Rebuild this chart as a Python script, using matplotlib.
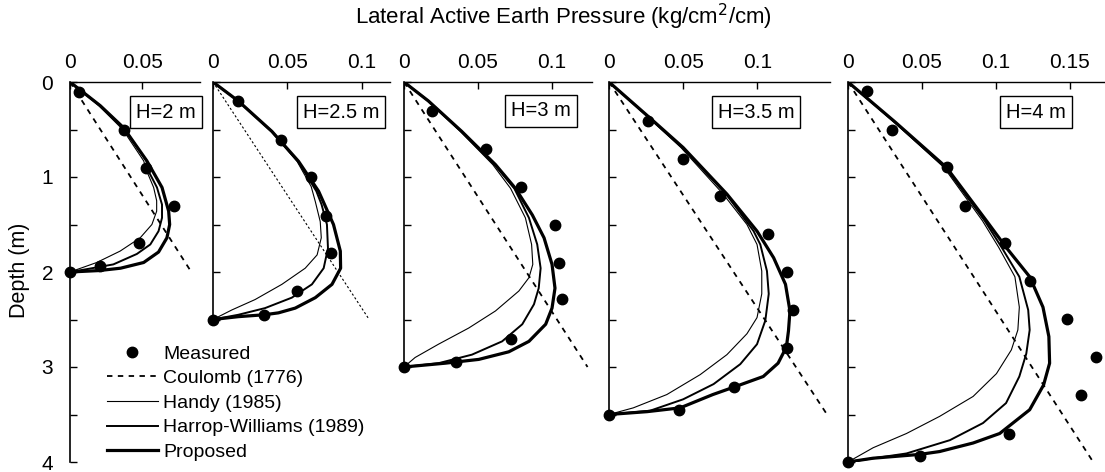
import matplotlib
matplotlib.use("Agg")
import matplotlib.pyplot as plt
from matplotlib.lines import Line2D

plt.rcParams['font.family'] = ['Liberation Sans', 'DejaVu Sans']
plt.rcParams['font.size'] = 14

# ---------------- data ----------------
heights = [2, 2.5, 3, 3.5, 4]
box_labels = ["H=2 m", "H=2.5 m", "H=3 m", "H=3.5 m", "H=4 m"]
x_limits = [0.090, 0.119, 0.127, 0.149, 0.174]
x_ticks = [[0, 0.05], [0, 0.05, 0.1], [0, 0.05, 0.1], [0, 0.05, 0.1], [0, 0.05, 0.1, 0.15]]
x_ticklabels = [["0", "0.05"], ["0", "0.05", "0.1"], ["0", "0.05", "0.1"],
                ["0", "0.05", "0.1"], ["0", "0.05", "0.1", "0.15"]]

meas_depth = [
    [0.105, 0.51, 0.9, 1.3, 1.69, 1.94, 2.0],
    [0.2, 0.61, 1.0, 1.41, 1.8, 2.2, 2.45, 2.5],
    [0.30, 0.705, 1.10, 1.51, 1.90, 2.28, 2.70, 2.95, 3.0],
    [0.41, 0.81, 1.2, 1.6, 2.0, 2.4, 2.8, 3.21, 3.45, 3.5],
    [0.098, 0.5, 0.896, 1.3, 1.69, 2.09, 2.49, 2.89, 3.29, 3.7, 3.94, 4.0],
]
meas_p = [
    [0.0065, 0.0375, 0.0528, 0.0722, 0.0475, 0.0208, 0],
    [0.0171, 0.0458, 0.066, 0.076, 0.079, 0.0564, 0.0346, 0],
    [0.0192, 0.0554, 0.0787, 0.1018, 0.1048, 0.1066, 0.072, 0.035, 0],
    [0.0261, 0.0502, 0.075, 0.107, 0.120, 0.124, 0.1198, 0.0845, 0.047, 0],
    [0.0126, 0.0295, 0.0667, 0.079, 0.1065, 0.1234, 0.148, 0.1676, 0.158, 0.1088, 0.0486, 0],
]

coulomb_depth = [[0, 2.0], [0, 2.5], [0, 3.0], [0, 3.5], [0, 4.0]]
coulomb_p = [[0, 0.084], [0, 0.105], [0, 0.124], [0, 0.147], [0, 0.166]]

handy_depth = [
    [0, 0.25, 0.5, 0.83, 0.94, 1.11, 1.25, 1.36, 1.5, 1.64, 1.78, 1.9, 2.0],
    [0, 0.2, 0.52, 0.835, 1.1, 1.26, 1.47, 1.64, 1.82, 1.96, 2.13, 2.29, 2.4, 2.5],
    [0, 0.2, 0.52, 0.87, 1.12, 1.43, 1.71, 1.92, 2.06, 2.2, 2.41, 2.59, 2.76, 2.9, 3.0],
    [0, 0.38, 0.69, 1.18, 1.5, 1.71, 1.99, 2.23, 2.48, 2.65, 2.87, 3.08, 3.29, 3.43, 3.5],
    [0, 0.42, 0.9, 1.46, 1.74, 2.05, 2.37, 2.61, 2.82, 3.07, 3.31, 3.52, 3.70, 3.85, 4.0],
]
handy_p = [
    [0, 0.020, 0.0365, 0.051, 0.0532, 0.0579, 0.060, 0.060, 0.0567, 0.0486, 0.0347, 0.0185, 0],
    [0, 0.0165, 0.039, 0.0565, 0.066, 0.0688, 0.0721, 0.0728, 0.070, 0.062, 0.0463, 0.0283, 0.0126, 0],
    [0, 0.016, 0.038, 0.060, 0.072, 0.082, 0.0862, 0.087, 0.0844, 0.0776, 0.0618, 0.0437, 0.0233, 0.0075, 0],
    [0, 0.027, 0.0485, 0.077, 0.093, 0.0998, 0.103, 0.103, 0.0998, 0.093, 0.0795, 0.0615, 0.039, 0.0164, 0],
    [0, 0.031, 0.065, 0.091, 0.102, 0.113, 0.116, 0.115, 0.1106, 0.1005, 0.0847, 0.062, 0.0396, 0.017, 0],
]

harrop_depth = [
    [0, 0.25, 0.5, 0.83, 0.94, 1.11, 1.29, 1.43, 1.57, 1.71, 1.81, 1.92, 1.97, 2.0],
    [0, 0.2, 0.52, 0.835, 1.15, 1.29, 1.5, 1.75, 1.96, 2.13, 2.27, 2.38, 2.45, 2.5],
    [0, 0.2, 0.52, 0.87, 1.12, 1.43, 1.71, 1.96, 2.17, 2.34, 2.55, 2.73, 2.87, 2.96, 3.0],
    [0, 0.38, 0.69, 1.18, 1.57, 1.71, 1.99, 2.23, 2.51, 2.76, 2.97, 3.18, 3.34, 3.46, 3.5],
    [0, 0.42, 0.9, 1.46, 1.74, 2.05, 2.40, 2.61, 2.86, 3.10, 3.38, 3.59, 3.77, 3.91, 4.0],
]
harrop_p = [
    [0, 0.021, 0.038, 0.053, 0.0544, 0.0602, 0.0637, 0.0637, 0.0613, 0.0556, 0.0463, 0.030, 0.0116, 0],
    [0, 0.017, 0.0396, 0.0572, 0.0695, 0.073, 0.0766, 0.0773, 0.0744, 0.0665, 0.053, 0.035, 0.0171, 0],
    [0, 0.0165, 0.0388, 0.0612, 0.0745, 0.0844, 0.090, 0.0923, 0.091, 0.0878, 0.0799, 0.0663, 0.0459, 0.0233, 0],
    [0, 0.0275, 0.0495, 0.079, 0.0975, 0.102, 0.1065, 0.1077, 0.1054, 0.0998, 0.0885, 0.0705, 0.050, 0.0277, 0],
    [0, 0.0315, 0.066, 0.0925, 0.104, 0.116, 0.122, 0.123, 0.1207, 0.116, 0.107, 0.0914, 0.069, 0.0396, 0],
]

prop_depth = [
    [0, 0.25, 0.48, 0.83, 1.11, 1.36, 1.5, 1.64, 1.79, 1.9, 1.96, 1.985, 2.0],
    [0, 0.2, 0.52, 0.835, 1.15, 1.5, 1.78, 1.96, 2.13, 2.27, 2.38, 2.43, 2.45, 2.47, 2.5],
    [0, 0.2, 0.52, 0.87, 1.12, 1.4, 1.64, 1.92, 2.17, 2.38, 2.55, 2.73, 2.84, 2.92, 2.96, 3.0],
    [0, 0.38, 0.69, 1.18, 1.57, 1.85, 2.13, 2.41, 2.62, 2.79, 2.96, 3.1, 3.21, 3.29, 3.43, 3.47, 3.5],
    [0, 0.42, 0.9, 1.46, 1.74, 2.05, 2.37, 2.68, 2.96, 3.19, 3.45, 3.70, 3.80, 3.89, 3.92, 3.96, 4.0],
]
prop_p = [
    [0, 0.021, 0.037, 0.0532, 0.0637, 0.0683, 0.069, 0.0671, 0.0613, 0.051, 0.035, 0.020, 0],
    [0, 0.017, 0.0396, 0.0575, 0.071, 0.081, 0.0856, 0.0858, 0.080, 0.0688, 0.0553, 0.044, 0.0346, 0.0171, 0],
    [0, 0.0165, 0.039, 0.0618, 0.0753, 0.0867, 0.0946, 0.100, 0.102, 0.100, 0.0957, 0.0844, 0.0708, 0.0505, 0.0278, 0],
    [0, 0.0277, 0.050, 0.0795, 0.0998, 0.111, 0.119, 0.122, 0.121, 0.1196, 0.114, 0.104, 0.0845, 0.070, 0.048, 0.0257, 0],
    [0, 0.0318, 0.0667, 0.0937, 0.107, 0.123, 0.132, 0.136, 0.1365, 0.1324, 0.123, 0.1027, 0.0847, 0.062, 0.0486, 0.017, 0],
]

# ---------------- layout (pixel based) ----------------
W, Hpx = 1105, 472
fig = plt.figure(figsize=(W / 100, Hpx / 100), dpi=100)
left_px = [70, 213, 404, 609, 848]
right_px = [200, 390, 592, 830, 1105]
top_px, bot_px = 82, 462
box_centers = [(166, 112), (341, 112), (541, 111), (756, 112), (1036, 112)]

for i in range(5):
    l, r = left_px[i], right_px[i]
    ax = fig.add_axes([l / W, (Hpx - bot_px) / Hpx, (r - l) / W, (bot_px - top_px) / Hpx])
    ax.set_xlim(0, x_limits[i])
    ax.set_ylim(4, 0)
    ax.patch.set_alpha(0)
    H = heights[i]
    ax.plot(coulomb_p[i], coulomb_depth[i], color='black',
            lw=0.8 if i == 1 else 1.3, ls=(0, (2, 2)) if i == 1 else (0, (3, 3)))
    ax.plot(handy_p[i], handy_depth[i], color='black', lw=0.8)
    ax.plot(harrop_p[i], harrop_depth[i], color='black', lw=1.4)
    ax.plot(prop_p[i], prop_depth[i], color='black', lw=2.3)
    ax.plot(meas_p[i], meas_depth[i], 'o', color='black', ms=7.5, clip_on=False)

    for s in ['right', 'bottom']:
        ax.spines[s].set_visible(False)
    ax.spines['top'].set_linewidth(1.0)
    ax.spines['left'].set_linewidth(1.2)
    ymax = 4 if i == 0 else H
    ax.spines['left'].set_bounds(0, ymax)
    ax.xaxis.set_ticks_position('top')
    ax.set_xticks(x_ticks[i])
    ax.set_xticklabels(x_ticklabels[i])
    ax.tick_params(axis='x', direction='in', length=5, width=1, pad=7, labelsize=15)
    yt = [k * 0.5 for k in range(int(ymax * 2) + 1)]
    ax.set_yticks(yt)
    if i == 0:
        ax.set_yticklabels([str(int(v)) if v == int(v) else "" for v in yt])
    else:
        ax.set_yticklabels([])
    ax.tick_params(axis='y', direction='in', length=5, width=1, pad=12, labelsize=15)

    cx, cy = box_centers[i]
    fig.text(cx / W, 1 - cy / Hpx, box_labels[i], ha='center', va='center', fontsize=14.5,
             bbox=dict(boxstyle='square,pad=0.3', fc='white', ec='black', lw=1.0))

fig.text(563 / W, 1 - 17 / Hpx, "Lateral Active Earth Pressure (kg/cm$^2$/cm)",
         ha='center', va='center', fontsize=16)
fig.text(20 / W, 1 - 270 / Hpx, "Depth (m)", rotation=90, ha='center', va='center', fontsize=15.5)

handles = [
    Line2D([], [], ls='none', marker='o', color='black', ms=7.5),
    Line2D([], [], color='black', lw=1.3, ls=(0, (3, 3))),
    Line2D([], [], color='black', lw=0.8),
    Line2D([], [], color='black', lw=1.4),
    Line2D([], [], color='black', lw=2.3),
]
labels = ["Measured", "Coulomb (1776)", "Handy (1985)", "Harrop-Williams (1989)", "Proposed"]
fig.legend(handles, labels, loc='upper left', bbox_to_anchor=(107 / W, 1 - 345 / Hpx),
           frameon=False, borderpad=0, borderaxespad=0, handlelength=2.6,
           handletextpad=0.3, labelspacing=0.36, fontsize=14)

fig.savefig("out.png", dpi=100)
